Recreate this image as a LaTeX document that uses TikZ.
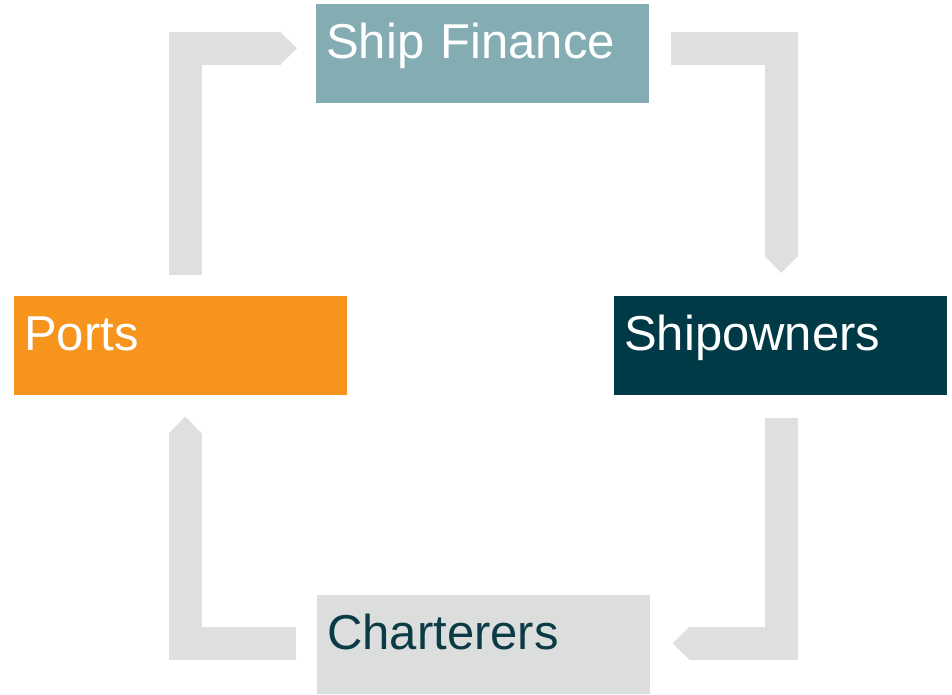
\documentclass[tikz,border=0pt]{standalone}
\usepackage{fontspec}
\setmainfont{Liberation Sans}
\usetikzlibrary{calc}

\definecolor{financeblue}{HTML}{84ACB3}
\definecolor{portorange}{HTML}{F7941E}
\definecolor{ownerteal}{HTML}{003A46}
\definecolor{chartergray}{HTML}{DCDEDD}
\definecolor{chartertext}{HTML}{0B3B45}
\definecolor{flowgray}{HTML}{DEDFDE}

\tikzset{
 party/.style={anchor=north west, inner xsep=7.5pt, inner ysep=0pt,
  minimum width=249.75pt, minimum height=74.25pt, text width=234.75pt, align=left,
  text height=40.5pt, text depth=33.75pt, font=\fontsize{36.75}{44}\selectfont},
 flow/.style={draw=flowgray, line width=24.75pt, line join=miter, line cap=butt,
  shorten >=12pt},
 flowtip/.style={fill=flowgray}
}

\begin{document}
\begin{tikzpicture}[x=0.75pt, y=-0.75pt]
\useasboundingbox (0,0) rectangle (952,694);
\node[party, fill=financeblue, text=white] (SF) at (316,4) {Ship Finance};
\node[party, fill=portorange, text=white] (Ports) at (14,296) {Ports};
\node[party, fill=ownerteal, text=white] (SO) at (614,296) {Shipowners};
\node[party, fill=chartergray, text=chartertext] (Ch) at (317,595) {Charterers};

\coordinate (t1) at ($(SF.west)+(-19,-5.5)$);
\coordinate (t2) at ($(SO.north)+(0.5,-23)$);
\coordinate (t3) at ($(Ch.east)+(22,-1.5)$);
\coordinate (t4) at ($(Ports.south)+(4.5,21)$);

\draw[flow] ($(Ports.north)+(4.5,-21)$) |- (t1);
\fill[flowtip] (t1) -- ++(-17,-16.5) -- ++(0,33) -- cycle;
\draw[flow] ($(SF.east)+(21,-5.5)$) -| (t2);
\fill[flowtip] (t2) -- ++(-16.5,-17) -- ++(33,0) -- cycle;
\draw[flow] ($(SO.south)+(0.5,22)$) |- (t3);
\fill[flowtip] (t3) -- ++(17,-16.5) -- ++(0,33) -- cycle;
\draw[flow] ($(Ch.west)+(-21,-1.5)$) -| (t4);
\fill[flowtip] (t4) -- ++(-16.5,17) -- ++(33,0) -- cycle;
\end{tikzpicture}
\end{document}
